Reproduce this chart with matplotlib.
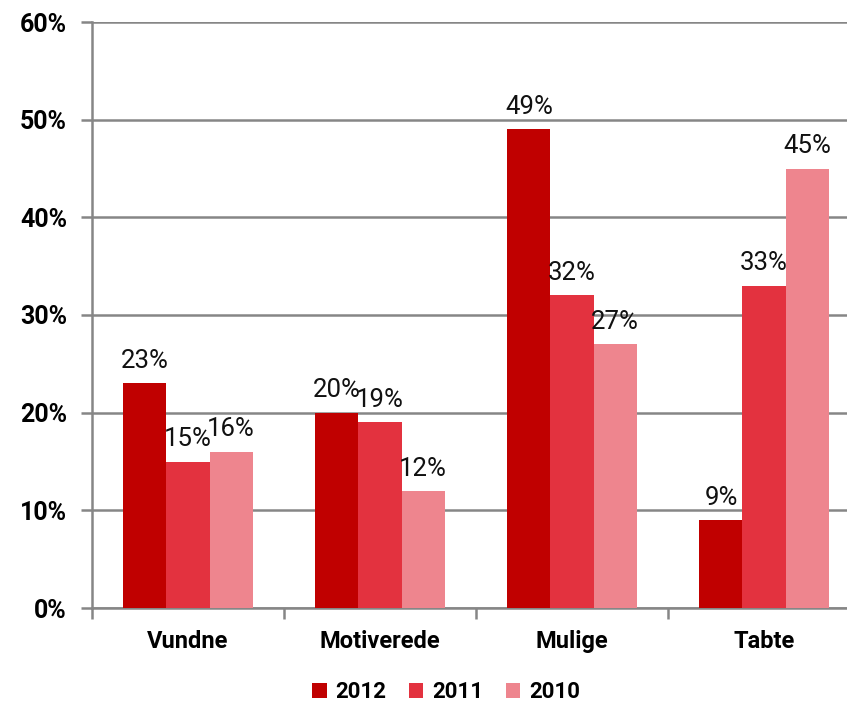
import matplotlib.pyplot as plt
import numpy as np

categories = ['Vundne', 'Motiverede', 'Mulige', 'Tabte']
years = ['2012', '2011', '2010']
v2012 = [23, 20, 49, 9]
v2011 = [15, 19, 32, 33]
v2010 = [16, 12, 27, 45]
colors = ['#C00000', '#E3323F', '#EE858E']

plt.rcParams['font.family'] = ['Roboto', 'DejaVu Sans']

fig = plt.figure(figsize=(8.47, 7.05), dpi=100)
# the plot area runs a little past the right edge of the picture
ax = fig.add_axes([92 / 847, 1 - 608 / 705, 768 / 847, (608 - 22) / 705])

x = np.arange(len(categories))
w = 0.224
for i, (vals, yr) in enumerate(zip([v2012, v2011, v2010], years)):
    pos = x + (i - 1) * w
    ax.bar(pos, vals, width=w, color=colors[i], label=yr, zorder=3)
    for p, v in zip(pos, vals):
        ax.annotate(f'{v}%', (p, v), xytext=(0, 11), textcoords='offset points',
                    ha='center', va='baseline', fontsize=18.5, color='#111111')

ax.set_ylim(0, 60)
ax.set_xlim(-0.5, 3.5)
ax.set_yticks(range(0, 61, 10))
ax.set_yticklabels([f'{t}%' for t in range(0, 61, 10)], fontsize=18, fontweight='bold')
ax.yaxis.grid(True, color='#868686', linewidth=1.8, zorder=0)

ax.set_xticks(x)
ax.set_xticklabels(categories, fontsize=17, fontweight='bold')
ax.tick_params(axis='x', length=0, pad=16)
ax.set_xticks(np.arange(-0.5, 4, 1), minor=True)
ax.tick_params(axis='x', which='minor', length=8, width=1.8, color='#868686')
ax.tick_params(axis='y', length=8, width=1.8, color='#868686', pad=10)

for s in ['top', 'right']:
    ax.spines[s].set_visible(False)
for s in ['left', 'bottom']:
    ax.spines[s].set_color('#868686')
    ax.spines[s].set_linewidth(1.8)

leg = fig.legend(loc='center', bbox_to_anchor=(446 / 847, 1 - 692 / 705), ncol=3, frameon=False,
                 handlelength=0.65, handleheight=0.65, handletextpad=0.4, columnspacing=1.0,
                 borderpad=0, prop={'size': 16, 'weight': 'bold'})

fig.savefig('out.png', dpi=100)
